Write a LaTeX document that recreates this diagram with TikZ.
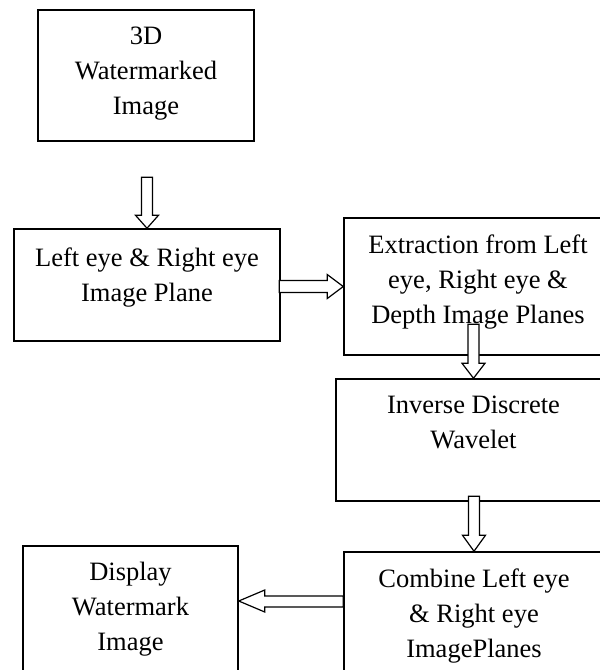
\documentclass[tikz,border=0pt]{standalone}
\usepackage{fontspec}
\setmainfont{Liberation Serif}
\usetikzlibrary{calc}
\begin{document}
\begin{tikzpicture}[x=1pt,y=-1pt,
  box/.style={draw=black, line width=1.5pt, rectangle, inner sep=0pt, fill=none},
  txt/.style={inner sep=0pt, anchor=base, font=\fontsize{26.5}{35}\selectfont},
  blockarrow/.style={draw=black, line width=1.2pt, fill=white, line join=miter}]
\useasboundingbox (0,0) rectangle (600,670);
\fill[white] (0,0) rectangle (600,670);
\clip (0,0) rectangle (600,670);
% boxes
\node[box, minimum width=216pt, minimum height=131pt] (b1) at (146,75.5) {};
\node[box, minimum width=266pt, minimum height=112pt] (b2) at (147,285) {};
\node[box, minimum width=268pt, minimum height=137pt] (b3) at (478,286.5) {};
\node[box, minimum width=275pt, minimum height=122pt] (b4) at (473.5,440) {};
\node[box, minimum width=260pt, minimum height=160pt] (b5) at (474,632) {};
\node[box, minimum width=215pt, minimum height=160pt] (b6) at (130.5,626) {};
% texts
\node[txt] (t1) at ($(b1.north)+(0,35)$) {\begin{tabular}[t]{@{}c@{}}3D\\Watermarked\\Image\end{tabular}};
\node[txt] (t2) at ($(b2.north)+(0,38)$) {\begin{tabular}[t]{@{}c@{}}Left eye \& Right eye\\Image Plane\end{tabular}};
\node[txt] (t3) at ($(b3.north)+(0,36)$) {\begin{tabular}[t]{@{}c@{}}Extraction from Left\\eye, Right eye \&\\Depth Image Planes\end{tabular}};
\node[txt] (t4) at ($(b4.north)+(0,35)$) {\begin{tabular}[t]{@{}c@{}}Inverse Discrete\\Wavelet\end{tabular}};
\node[txt] (t5) at ($(b5.north)+(0,36)$) {\begin{tabular}[t]{@{}c@{}}Combine Left eye\\\& Right eye\\ImagePlanes\end{tabular}};
\node[txt] (t6) at ($(b6.north)+(0,35)$) {\begin{tabular}[t]{@{}c@{}}Display\\Watermark\\Image\end{tabular}};
% arrows (hollow block arrows)
\draw[blockarrow, shift={(b2.north)}] (-5.5,-51) -- (-5.5,-13) -- (-11.5,-13) -- (0,0) -- (11.5,-13) -- (5.5,-13) -- (5.5,-51) -- cycle;
\draw[blockarrow, shift={(b3.west)}] (-64,-6) -- (-16,-6) -- (-16,-12) -- (0,0) -- (-16,12) -- (-16,6) -- (-64,6) -- cycle;
\draw[blockarrow, shift={(b4.north)}] (-5.5,-54) -- (-5.5,-15) -- (-11.5,-15) -- (0,0) -- (11.5,-15) -- (5.5,-15) -- (5.5,-54) -- cycle;
\draw[blockarrow, shift={(b5.north)}] (-5.5,-55) -- (-5.5,-16) -- (-11.5,-16) -- (0,0) -- (11.5,-16) -- (5.5,-16) -- (5.5,-55) -- cycle;
\draw[blockarrow, shift={(b6.east|-b5.west)}] (104.5,-36) -- (26,-36) -- (26,-42) -- (0,-31) -- (26,-20) -- (26,-25) -- (104.5,-25) -- cycle;
\end{tikzpicture}
\end{document}
